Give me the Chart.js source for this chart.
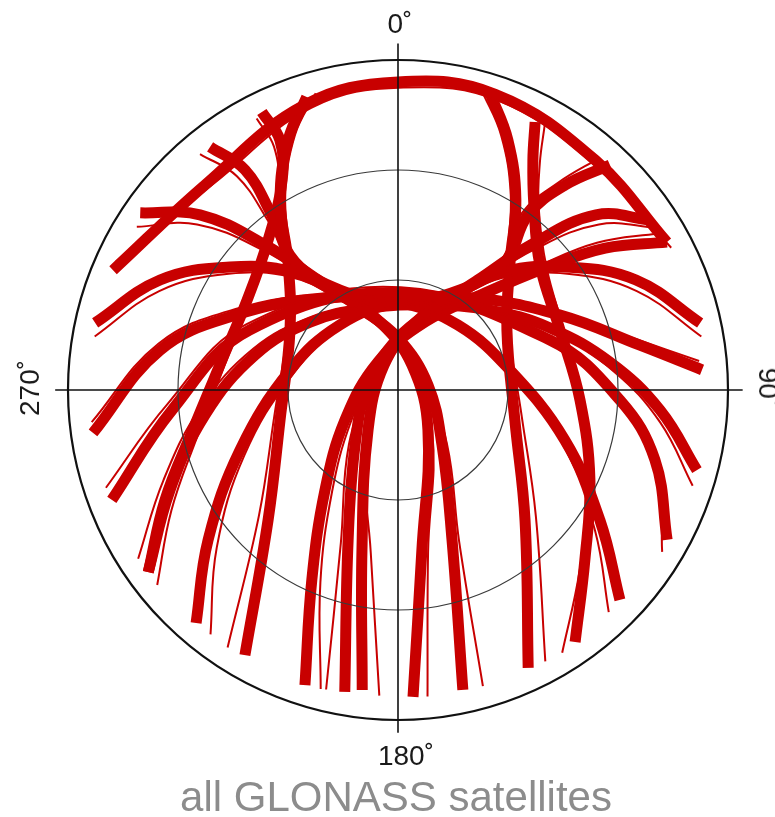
<!DOCTYPE html>
<html>
<head>
<meta charset="utf-8">
<script src="https://cdn.jsdelivr.net/npm/chart.js@4.4.1/dist/chart.umd.min.js"></script>
<style>
  html, body { margin: 0; padding: 0; background: #ffffff; }
  #wrap { position: relative; width: 775px; height: 817px; overflow: hidden; }
  #sky { position: absolute; left: 0; top: 0; }
  .lbl { position: absolute; font-family: "Liberation Sans", Arial, Helvetica, sans-serif; font-size: 28px; color: #1a1a1a; white-space: nowrap; transform: translate(-50%, -50%); line-height: 1; }
  #title { position: absolute; left: 396px; top: 797px; transform: translate(-50%, -50%); font-family: "Liberation Sans", Arial, Helvetica, sans-serif; font-size: 42px; color: #8c8c8c; white-space: nowrap; line-height: 1; }
</style>
</head>
<body>
<div id="wrap">
  <canvas id="sky" width="775" height="817"></canvas>
  <div class="lbl" id="lN" style="left:400px; top:24px;">0˚</div>
  <div class="lbl" id="lS" style="left:406px; top:756px;">180˚</div>
  <div class="lbl" id="lW" style="left:30px; top:388px; transform: translate(-50%, -50%) rotate(-90deg);">270˚</div>
  <div class="lbl" id="lE" style="left:768px; top:388px; transform: translate(-50%, -50%) rotate(90deg);">90˚</div>
  <div id="title">all GLONASS satellites</div>
</div>
<script>
// Elevation rings (degrees) and azimuth tick labels
const ringElevations = [0, 30, 60];
const azimuthLabels = ["0˚", "90˚", "180˚", "270˚"];

// Main satellite track bundles: azimuth (deg, clockwise from north) and elevation (deg)
const trackA_az = [292.8, 316.7, 341.9, 0, 18.2, 40.6, 61.2];
const trackA_el = [5.7, 13.2, 8.2, 6.0, 5.1, 7.4, 6.3];
const trackB_az = [249.0, 264.9, 292.1, 0, 71.8, 92.6, 105.2, 119.1];
const trackB_el = [6.4, 28.1, 46.4, 63.5, 46.4, 29.4, 17.4, 6.0];
const trackC_az = [167.8, 160.2, 141.3, 80.5, 0, 335.1, 324.0, 317.5, 311.5, 304.5];
const trackC_el = [6.3, 46.5, 70.8, 81.7, 75.8, 65.4, 52.9, 36.3, 17.9, 4.7];
const trackD_az = [190.0, 198.4, 218.0, 279.5, 0, 24.9, 36.0, 42.5, 48.5, 56.0];
const trackD_el = [6.4, 46.9, 71.0, 81.7, 75.8, 65.4, 52.9, 36.3, 17.9, 7.1];
const trackE_az = [177.2, 171.5, 143.1, 29.2, 345.2, 328.6, 318.1, 306.2, 294.8, 282.5];
const trackE_el = [6.2, 45.9, 76.4, 82.2, 70.8, 59.6, 46.7, 33.2, 18.5, 5.4];
const trackF_az = [186.8, 192.7, 216.9, 330.8, 14.8, 31.4, 41.9, 53.8, 65.2, 77.5];
const trackF_el = [7.6, 45.3, 76.4, 82.2, 70.8, 59.6, 46.7, 33.2, 18.5, 5.6];
const trackG_az = [342.7, 336.3, 328.2, 319.3, 299.1, 255.7, 225.0, 210.0];
const trackG_el = [6.3, 15.5, 29.0, 44.0, 56.3, 56.8, 39.9, 6.5];
const trackG2_az = [17.2, 23.7, 31.8, 41.2, 61.2, 104.4, 135.7, 154.9];
const trackG2_el = [5.2, 15.5, 29.0, 43.6, 56.1, 57.1, 40.4, 6.3];
const trackH_az = [220.9, 231.7, 249.2, 280.5, 318.3, 0, 38.0, 65.2, 79.5, 86.2];
const trackH_el = [5.9, 24.0, 43.9, 60.1, 66.2, 66.0, 58.1, 41.3, 22.9, 6.9];
const trackH2_az = [133.4, 122.8, 106.7, 79.9, 42.7, 0, 322.0, 294.8, 279.5, 262.0];
const trackH2_el = [6.7, 24.5, 42.5, 59.0, 65.9, 66.0, 58.1, 41.3, 24.2, 6.0];
const trackI_az = [233.9, 244.7, 259.0, 279.7, 300.8, 319.1, 331.1, 334.7, 333.9];
const trackI_el = [5.7, 19.7, 33.0, 41.3, 42.1, 35.9, 24.6, 14.6, 5.6];
const trackI2_az = [144.9, 132.3, 115.1, 93.1, 69.7, 48.6, 36.3, 30.4, 27.1];
const trackI2_el = [6.0, 21.1, 32.2, 40.3, 42.9, 38.4, 27.4, 17.3, 7.9];
const trackJ_az = [322.3, 325.2, 324.2, 321.2, 329.9, 0, 31.8, 39.9, 36.6, 39.2, 43.3];
const trackJ_el = [6.2, 16.9, 31.2, 45.2, 58.5, 66.0, 57.9, 44.5, 30.5, 17.9, 5.7];
const trackK_az = [105.0, 94.4, 82.5, 67.8, 49.0, 20.6, 341.1, 307.7, 283.8, 262.6, 246.3, 233.9];
const trackK_el = [5.6, 18.3, 31.7, 45.2, 56.8, 65.2, 66.4, 59.7, 49.9, 36.9, 22.1, 5.7];
const trackL_az = [197.5, 204.4, 216.1, 240.5, 324.5, 21.7, 41.9, 50.3, 55.6, 61.2];
const trackL_el = [5.6, 33.1, 56.2, 73.4, 80.6, 70.0, 54.5, 37.9, 21.5, 6.3];

// Single-day stray passes that run beside the bundles (thin lines)
const strayA_az = [294.5, 318.0, 343.0, 1.0, 19.5, 42.0, 62.5];
const strayA_el = [5.5, 14.5, 9.5, 7.5, 6.5, 8.5, 6.0];
const strayB_az = [251.5, 266.5, 293.5, 1.5, 73.0, 94.0, 107.0, 121.5];
const strayB_el = [6.0, 27.0, 45.0, 62.0, 45.0, 28.0, 16.0, 5.5];
const strayC_az = [164.0, 158.0, 138.0, 75.0, 355.0, 333.0, 322.5, 316.0, 309.5, 302.0];
const strayC_el = [6.0, 45.5, 70.0, 82.5, 76.5, 66.0, 53.5, 37.0, 19.0, 6.0];
const strayD_az = [193.5, 200.5, 222.0, 285.0, 5.0, 27.0, 37.5, 44.0, 50.5, 58.0];
const strayD_el = [6.0, 45.5, 70.0, 82.5, 76.5, 66.0, 53.5, 37.0, 19.0, 6.5];
const strayE_az = [174.5, 169.5, 140.0, 25.0, 343.5, 327.0, 316.5, 304.5, 292.5, 280.0];
const strayE_el = [6.0, 45.0, 75.5, 83.0, 71.5, 60.5, 47.5, 34.0, 19.5, 6.0];
const strayF_az = [183.5, 189.5, 220.0, 335.0, 16.5, 33.0, 43.5, 55.5, 67.5, 80.0];
const strayF_el = [6.5, 45.0, 75.5, 83.0, 71.5, 60.5, 47.5, 34.0, 19.5, 6.0];
const strayG_az = [344.5, 338.0, 330.0, 321.0, 301.0, 258.0, 228.0, 213.5];
const strayG_el = [6.0, 15.0, 28.5, 43.0, 55.0, 55.5, 39.0, 5.8];
const strayG2_az = [15.5, 22.0, 30.0, 39.5, 59.0, 102.0, 132.5, 151.5];
const strayG2_el = [5.0, 15.0, 28.5, 43.0, 55.0, 55.5, 39.0, 5.8];
const strayH_az = [217.5, 229.0, 247.0, 278.5, 316.5, 358.5, 36.5, 63.5, 78.0, 84.5];
const strayH_el = [6.0, 24.5, 44.5, 61.0, 67.0, 67.0, 59.0, 42.0, 23.5, 7.5];
const strayH2_az = [136.5, 125.5, 109.0, 82.0, 44.5, 1.5, 323.5, 296.5, 281.0, 264.0];
const strayH2_el = [6.5, 24.0, 42.0, 58.5, 65.5, 65.5, 57.5, 40.5, 23.5, 6.0];
const strayI_az = [231.0, 242.0, 256.5, 277.0, 298.5, 317.0, 329.5, 333.0, 332.5];
const strayI_el = [5.5, 20.0, 33.5, 42.0, 43.0, 36.5, 25.5, 15.5, 6.5];
const strayI2_az = [148.0, 135.0, 117.5, 95.5, 72.0, 50.5, 37.5, 32.0, 29.0];
const strayI2_el = [5.5, 20.0, 31.5, 39.5, 42.0, 37.5, 27.0, 17.0, 7.5];
const strayJ_az = [320.0, 323.0, 322.5, 320.0, 328.5, 359.0, 30.5, 38.5, 35.0, 37.7, 41.0];
const strayJ_el = [6.0, 17.0, 31.5, 46.0, 59.5, 67.0, 59.0, 45.5, 31.0, 18.5, 6.0];
const strayK_az = [108.0, 97.0, 85.0, 70.0, 51.0, 22.0, 342.5, 309.5, 286.0, 265.0, 249.0, 237.0];
const strayK_el = [5.5, 18.0, 31.0, 44.5, 56.0, 64.5, 65.5, 59.0, 49.0, 36.0, 21.5, 5.5];
const strayL_az = [194.5, 202.0, 213.0, 236.0, 320.0, 19.5, 40.0, 48.5, 53.5, 59.0];
const strayL_el = [5.8, 33.5, 57.0, 74.5, 81.5, 71.0, 55.5, 39.0, 22.5, 7.0];

const bundles = [
  [trackA_az, trackA_el], [trackB_az, trackB_el], [trackC_az, trackC_el], [trackD_az, trackD_el],
  [trackE_az, trackE_el], [trackF_az, trackF_el], [trackG_az, trackG_el], [trackG2_az, trackG2_el],
  [trackH_az, trackH_el], [trackH2_az, trackH2_el], [trackI_az, trackI_el], [trackI2_az, trackI2_el],
  [trackJ_az, trackJ_el], [trackK_az, trackK_el], [trackL_az, trackL_el]
];
const strays = [
  [strayA_az, strayA_el], [strayB_az, strayB_el], [strayC_az, strayC_el], [strayD_az, strayD_el],
  [strayE_az, strayE_el], [strayF_az, strayF_el], [strayG_az, strayG_el], [strayG2_az, strayG2_el],
  [strayH_az, strayH_el], [strayH2_az, strayH2_el], [strayI_az, strayI_el], [strayI2_az, strayI2_el],
  [strayJ_az, strayJ_el], [strayK_az, strayK_el], [strayL_az, strayL_el]
];

// polar (azimuth/elevation) -> plane of the skyplot, in degrees of zenith distance
function project(az, el) {
  const z = 90 - el, a = az * Math.PI / 180;
  return { x: z * Math.sin(a), y: z * Math.cos(a) };
}

const RED = 'rgb(200,0,0)';
function makeSet(pair, width, name) {
  const [az, el] = pair;
  return {
    label: name,
    data: az.map((a, k) => project(a, el[k])),
    showLine: true,
    borderColor: RED,
    backgroundColor: RED,
    borderWidth: width,
    pointRadius: 0,
    tension: 0.4,
    borderCapStyle: 'butt',
    borderJoinStyle: 'round',
    fill: false
  };
}
const datasets = [
  ...strays.map((p, i) => makeSet(p, 2, 'stray ' + (i + 1))),
  ...bundles.map((p, i) => makeSet(p, 11, 'bundle ' + (i + 1)))
];

const gridPlugin = {
  id: 'skyGrid',
  afterDatasetsDraw(chart) {
    const ctx = chart.ctx, xs = chart.scales.x, ys = chart.scales.y;
    const cx = xs.getPixelForValue(0), cy = ys.getPixelForValue(0);
    ctx.save();
    ringElevations.forEach(e => {
      const r = xs.getPixelForValue(90 - e) - cx;
      ctx.beginPath();
      ctx.arc(cx, cy, r, 0, Math.PI * 2);
      ctx.lineWidth = e === 0 ? 2.2 : 1.2;
      ctx.strokeStyle = e === 0 ? '#111' : '#3a3a3a';
      ctx.stroke();
    });
    ctx.lineWidth = 1.6;
    ctx.strokeStyle = '#111';
    ctx.beginPath();
    ctx.moveTo(cx, ys.getPixelForValue(94.5));
    ctx.lineTo(cx, ys.getPixelForValue(-93.5));
    ctx.moveTo(xs.getPixelForValue(-93.5), cy);
    ctx.lineTo(xs.getPixelForValue(94), cy);
    ctx.stroke();
    ctx.restore();
  }
};

new Chart(document.getElementById('sky'), {
  type: 'scatter',
  data: { datasets },
  options: {
    responsive: false,
    maintainAspectRatio: false,
    animation: false,
    devicePixelRatio: 1,
    layout: { padding: { left: 68, right: 47, top: 60, bottom: 97 } },
    scales: {
      x: { type: 'linear', min: -90, max: 90, display: false },
      y: { type: 'linear', min: -90, max: 90, display: false }
    },
    plugins: { legend: { display: false }, tooltip: { enabled: false }, title: { display: false } }
  },
  plugins: [gridPlugin]
});
</script>
</body>
</html>
